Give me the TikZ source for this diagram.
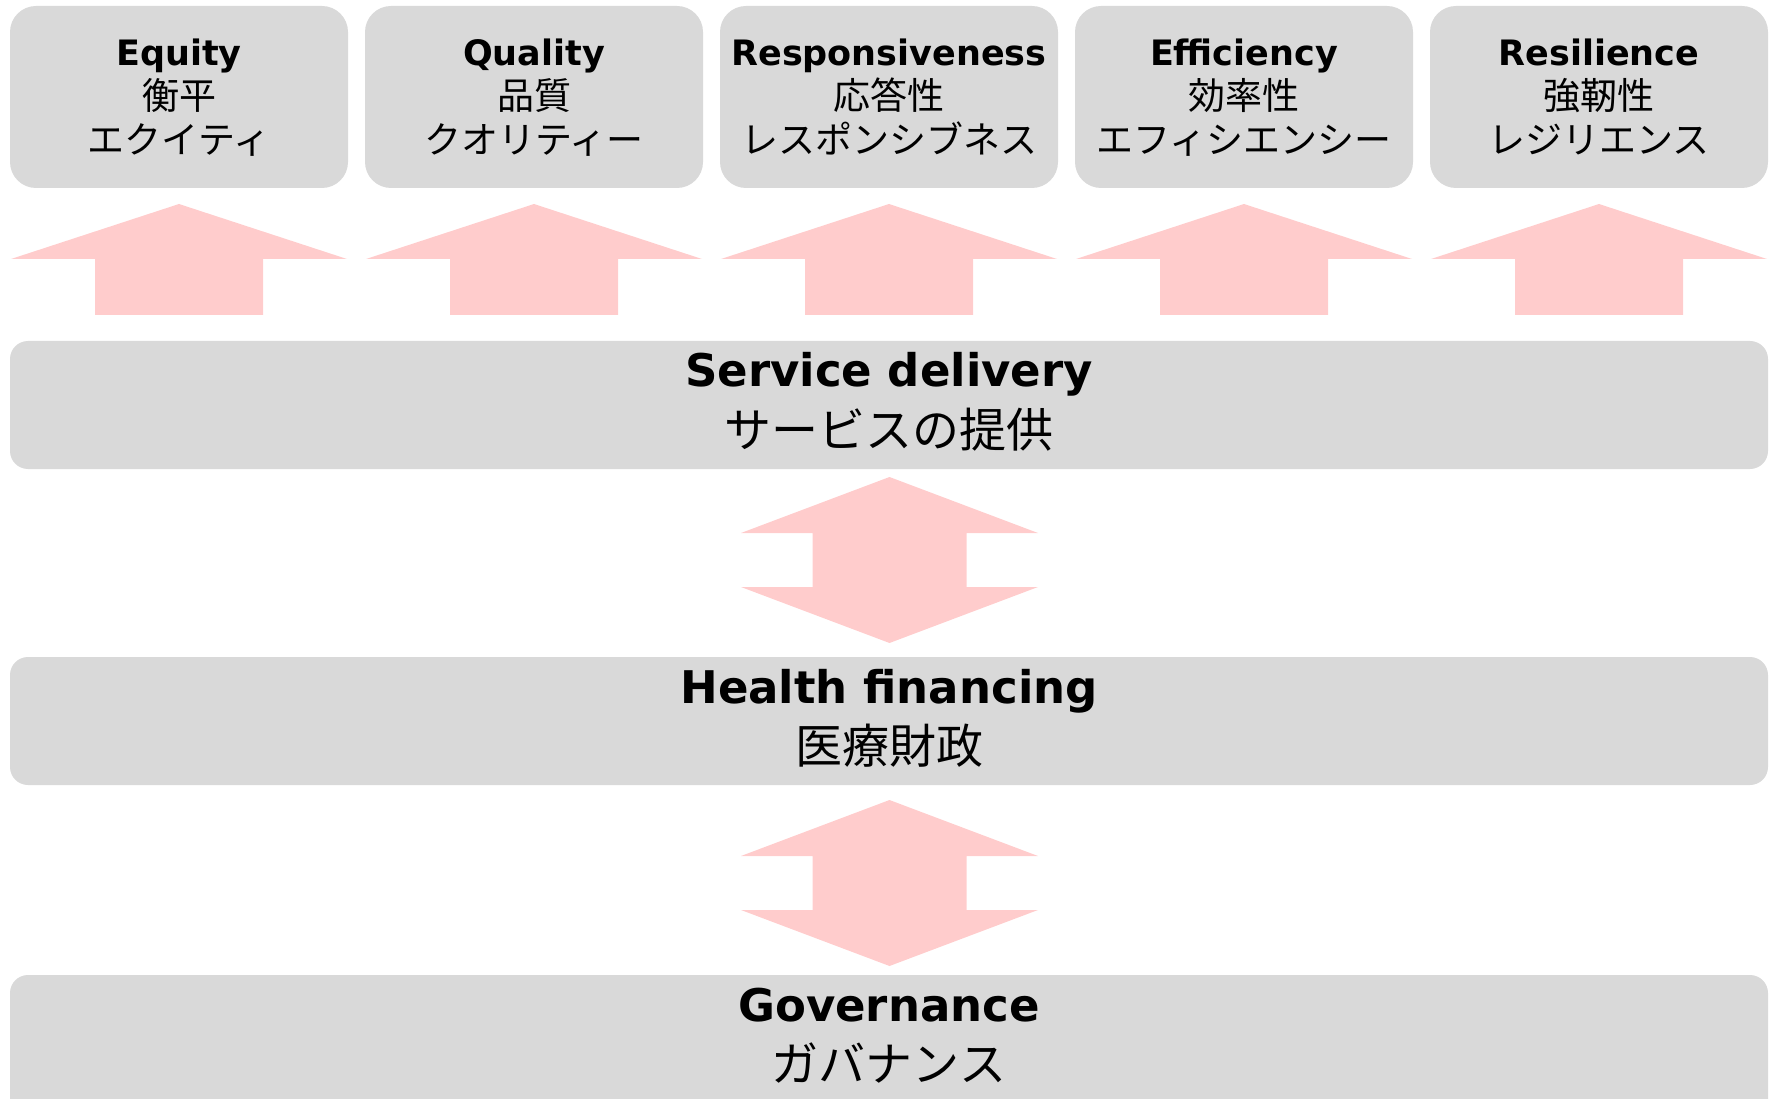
\documentclass[tikz,border=0pt]{standalone}
\usepackage{fontspec}
\setmainfont{DejaVu Sans}
\newfontfamily\jpfont{Noto Sans CJK JP}
\definecolor{boxgray}{HTML}{D9D9D9}
\definecolor{arrowpink}{HTML}{FFCCCC}

\begin{document}
\begin{tikzpicture}[x=1pt,y=-1pt,
  goal/.style={fill=boxgray,rounded corners=26pt,minimum width=338pt,minimum height=182pt,inner sep=0pt},
  block/.style={fill=boxgray,rounded corners=18pt,minimum width=1758pt,minimum height=128pt,inner sep=0pt},
  goalen/.style={anchor=base,inner sep=0pt,font=\fontsize{35}{42}\selectfont\bfseries},
  goaljp/.style={anchor=base,inner sep=0pt,font=\jpfont\fontsize{37}{44}\selectfont},
  blocken/.style={anchor=base,inner sep=0pt,font=\fontsize{45}{54}\selectfont\bfseries},
  blockjp/.style={anchor=base,inner sep=0pt,font=\jpfont\fontsize{47}{56}\selectfont}]
\useasboundingbox (0,0) rectangle (1773,1099);

% five goals, each with an arrow up from service delivery
\foreach \en/\kanji/\kana [count=\n from 0] in {Equity/衡平/エクイティ, Quality/品質/クオリティー, Responsiveness/応答性/レスポンシブネス, Efficiency/効率性/エフィシエンシー, Resilience/強靭性/レジリエンス} {
  \pgfmathsetmacro\cx{179+355*\n}
  \node[goal] (goal\n) at (\cx,97) {};
  \node[goalen] (goal\n-en) at (\cx,66) {\en};
  \node[goaljp] (goal\n-kanji) at (\cx,110) {\kanji};
  \node[goaljp] (goal\n-kana) at (\cx,154) {\kana};
  \fill[arrowpink] (\cx,204) -- ++(168,55) -- ++(-84,0) -- ++(0,56) -- ++(-168,0) -- ++(0,-56) -- ++(-84,0) -- cycle;
}

% building blocks
\node[block] (service) at (889,405) {};
\node[blocken] (service-en) at (889,387) {Service delivery};
\node[blockjp] (service-jp) at (889,447) {サービスの提供};

\node[block] (financing) at (889,721) {};
\node[blocken] (financing-en) at (889,703) {Health financing};
\node[blockjp] (financing-jp) at (889,763) {医療財政};

\node[block,minimum height=160pt] (governance) at (889,1055) {};
\node[blocken] (governance-en) at (889,1021) {Governance};
\node[blockjp] (governance-jp) at (889,1081) {ガバナンス};

% two-way arrows between the blocks
\foreach \y in {477,800}
  \fill[arrowpink] (889.5,\y) -- ++(148.5,56) -- ++(-71.5,0) -- ++(0,54) -- ++(71.5,0) -- ++(-148.5,56) -- ++(-148.5,-56) -- ++(71.5,0) -- ++(0,-54) -- ++(-71.5,0) -- cycle;
\end{tikzpicture}
\end{document}
